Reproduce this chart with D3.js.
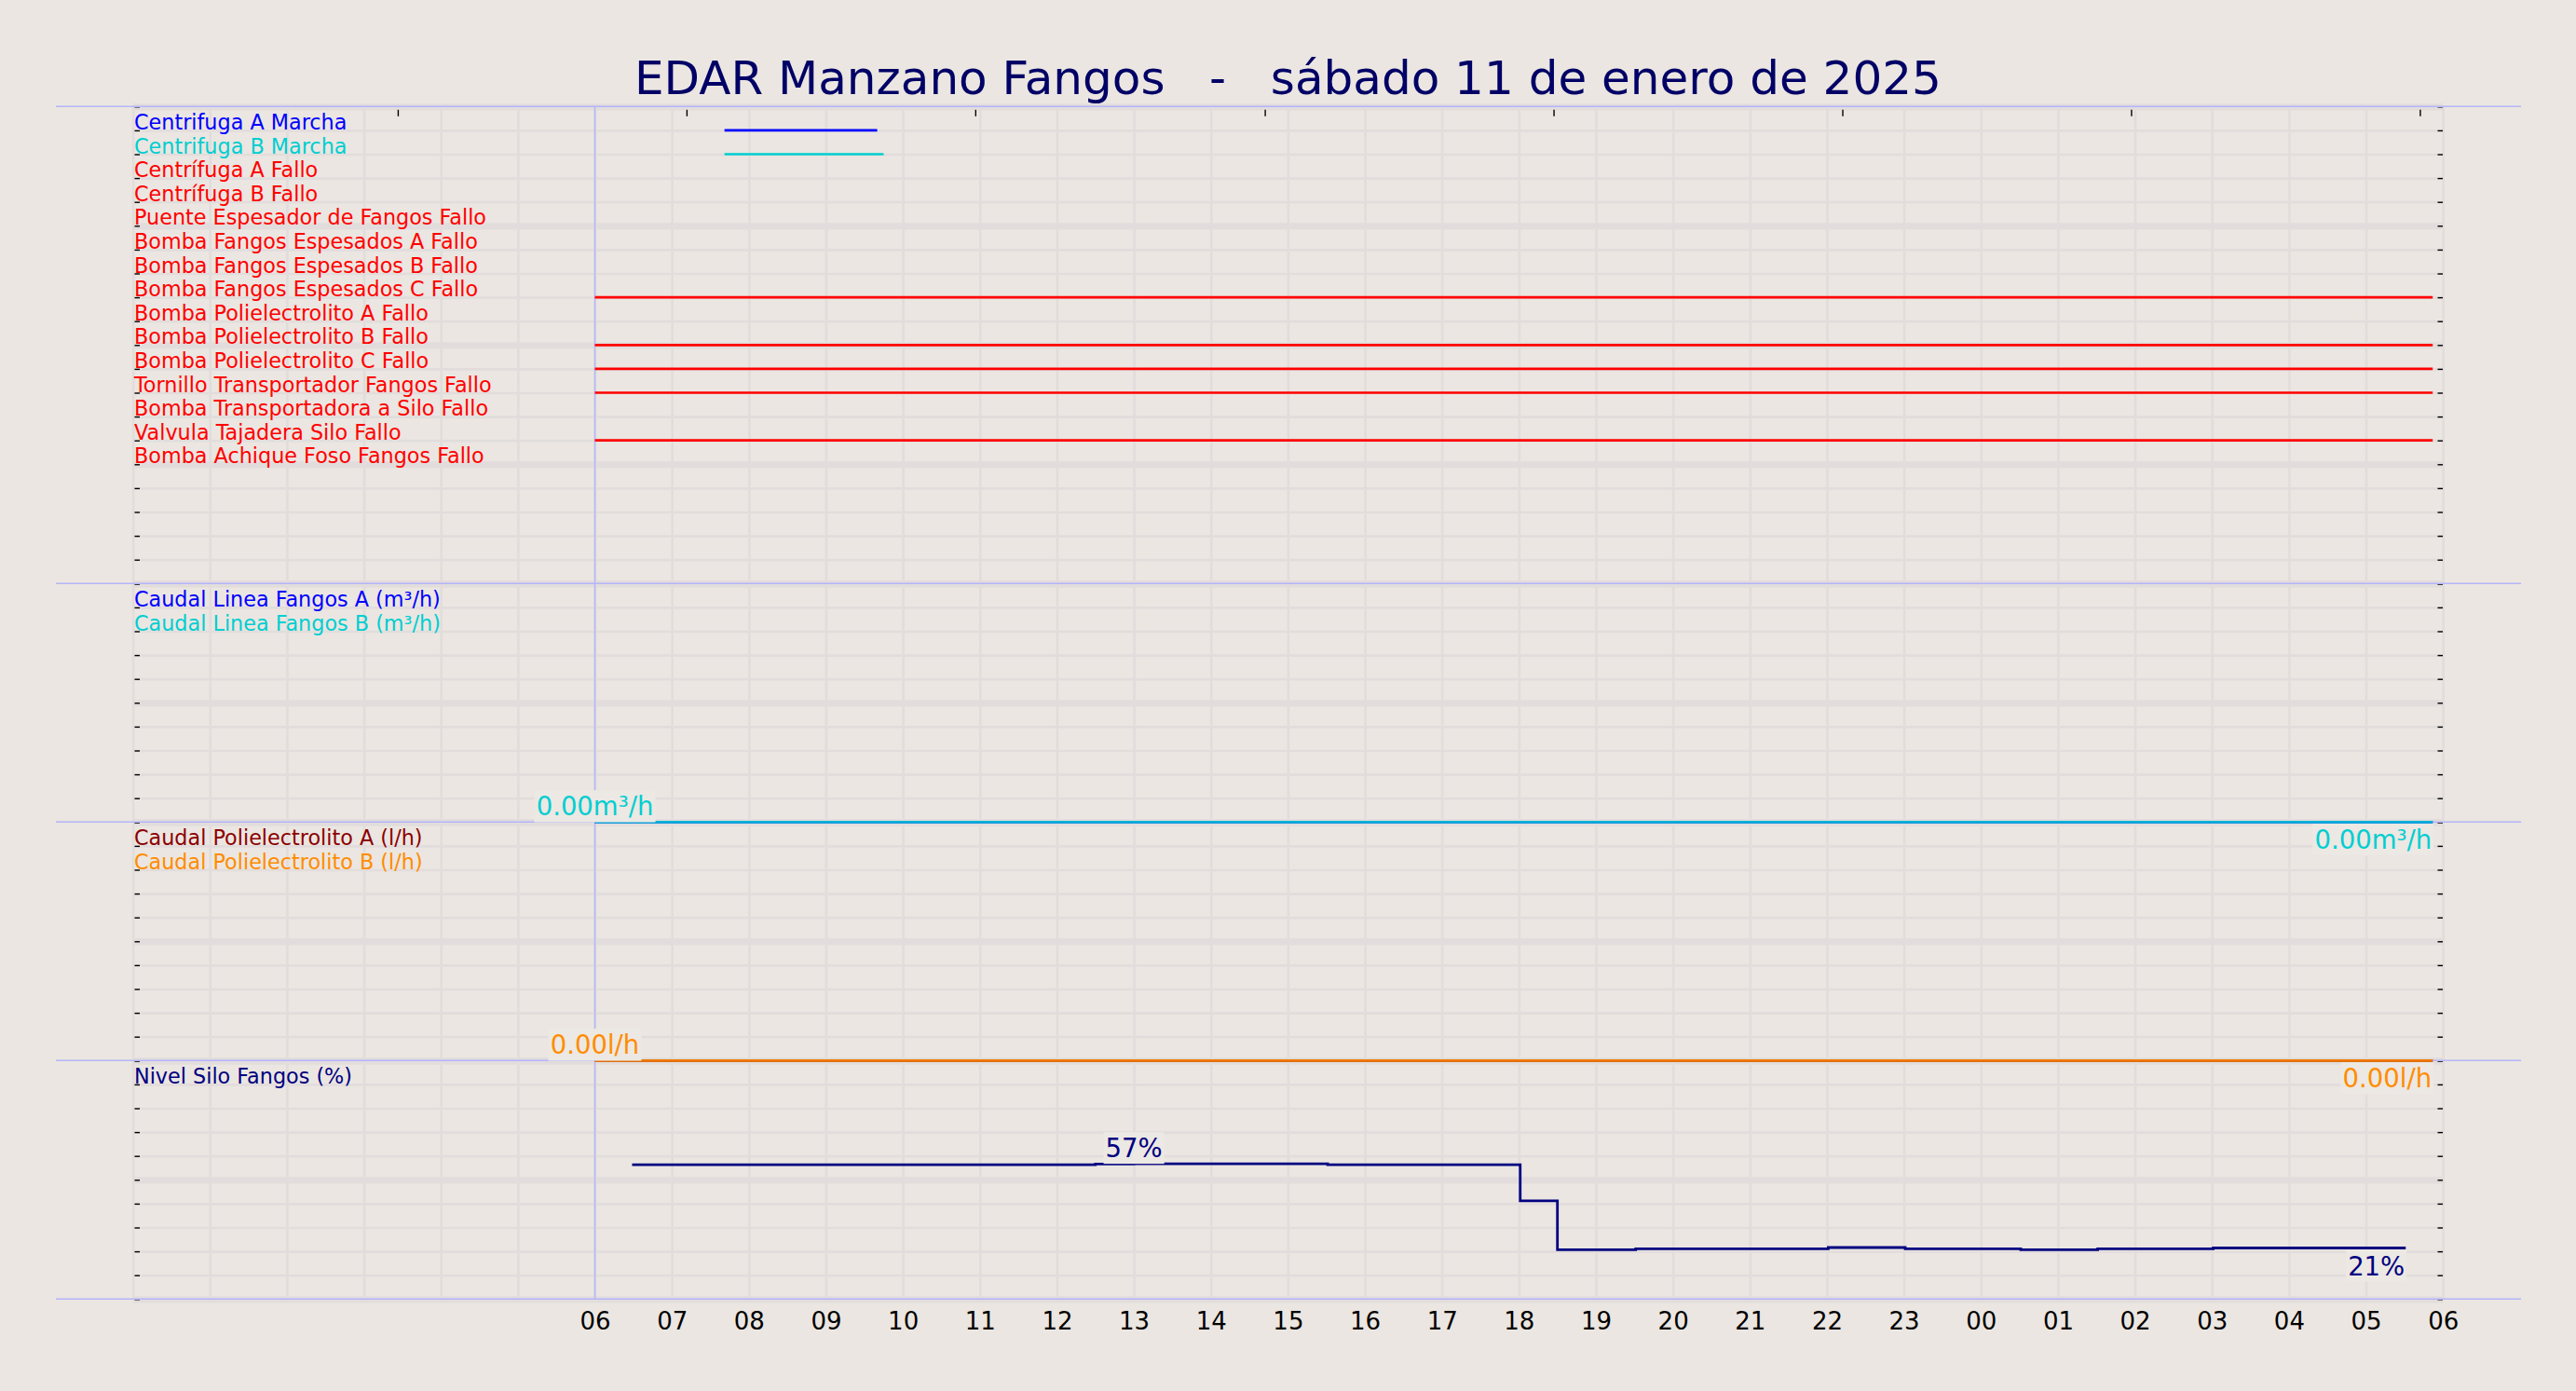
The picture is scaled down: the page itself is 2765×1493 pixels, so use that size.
<!DOCTYPE html>
<html>
<head>
<meta charset="utf-8">
<script src="https://d3js.org/d3.v7.min.js"></script>
<style>
  html, body { margin: 0; padding: 0; background: #ebe6e1; }
  svg { display: block; font-family: "DejaVu Sans", sans-serif; }
</style>
</head>
<body>
<svg id="chart" width="2765" height="1493"></svg>
<script>
// ---------------- DATA ----------------
const titleText = "EDAR Manzano Fangos   -   sábado 11 de enero de 2025";

const signalNames = [
  "Centrifuga A Marcha", "Centrifuga B Marcha", "Centrífuga A Fallo", "Centrífuga B Fallo",
  "Puente Espesador de Fangos Fallo", "Bomba Fangos Espesados A Fallo", "Bomba Fangos Espesados B Fallo",
  "Bomba Fangos Espesados C Fallo", "Bomba Polielectrolito A Fallo", "Bomba Polielectrolito B Fallo",
  "Bomba Polielectrolito C Fallo", "Tornillo Transportador Fangos Fallo", "Bomba Transportadora a Silo Fallo",
  "Valvula Tajadera Silo Fallo", "Bomba Achique Foso Fangos Fallo"
];
// active intervals per signal (day hour:minute)
const signalActive = [
  [["11 07:41", "11 09:40"]],
  [["11 07:41", "11 09:45"]],
  [], [], [], [], [],
  [["11 06:00", "12 05:52"]],
  [],
  [["11 06:00", "12 05:52"]],
  [["11 06:00", "12 05:52"]],
  [["11 06:00", "12 05:52"]],
  [],
  [["11 06:00", "12 05:52"]],
  []
];

const flowNames = ["Caudal Linea Fangos A (m³/h)", "Caudal Linea Fangos B (m³/h)"];
const flowTimes = ["11 06:00", "12 05:52"];
const flowA = [0, 0];
const flowB = [0, 0];

const polyNames = ["Caudal Polielectrolito A (l/h)", "Caudal Polielectrolito B (l/h)"];
const polyTimes = ["11 06:00", "12 05:52"];
const polyA = [0, 0];
const polyB = [0, 0];

const levelName = "Nivel Silo Fangos (%)";
const levelTimes = ["11 06:29", "11 12:30", "11 13:00", "11 15:31", "11 18:01", "11 18:30", "11 19:31",
                    "11 22:01", "11 23:01", "12 00:31", "12 01:31", "12 03:01", "12 05:31"];
const levelValues = [56.3, 56.6, 56.7, 56.3, 41.2, 20.7, 21.1, 21.6, 21.1, 20.7, 21.1, 21.4, 21.4];

const xTickLabels = ["06","07","08","09","10","11","12","13","14","15","16","17","18","19","20","21","22","23",
                     "00","01","02","03","04","05","06"];
const topTickHours = [3.44, 7.19, 10.94, 14.70, 18.45, 22.20, 25.95, 29.70];

// ---------------- SETUP ----------------
const parseT = d3.timeParse("%Y %d %H:%M");
const P = s => parseT("2025 " + s);
const t0 = new Date(2025, 0, 11, 0, 0);
const t1 = new Date(2025, 0, 12, 6, 0);

const W = 2765, H = 1493;
const plotL = 142.6, plotR = 2622.2;
const bg = "#ebe6e1", gridCol = "#e2dddc", lav = "#b4b4fa";
const labelSize = 22.3, valueSize = 27.5;

const svg = d3.select("#chart");
svg.append("rect").attr("width", W).attr("height", H).attr("fill", bg);

const x = d3.scaleTime().domain([t0, t1]).range([plotL, plotR]);

const panels = [
  { top: 114.3, h: 512, rows: 20 },
  { top: 626.3, h: 256, rows: 10 },
  { top: 882.3, h: 256, rows: 10 },
  { top: 1138.3, h: 256, rows: 10 }
];
panels.forEach(p => {
  p.row = d3.scaleLinear().domain([0, p.rows]).range([p.top, p.top + p.h]);
});
const plotTop = panels[0].top, plotBottom = panels[3].top + panels[3].h;

// ---------------- GRID ----------------
const gGrid = svg.append("g");
const hourly = [];
for (let h = 0; h <= 30; h++) hourly.push(new Date(t0.getTime() + h * 3600000));
const vg = gGrid.append("g").attr("transform", `translate(0,${plotBottom})`)
  .call(d3.axisBottom(x).tickValues(hourly).tickSize(-(plotBottom - plotTop)).tickFormat(""));
vg.select(".domain").remove();
vg.selectAll("line").attr("stroke", gridCol).attr("stroke-width", 2.7);

panels.forEach(p => {
  const g = gGrid.append("g").attr("transform", `translate(${plotL},0)`)
    .call(d3.axisLeft(p.row).tickValues(d3.range(0, p.rows + 1)).tickSize(-(plotR - plotL)).tickFormat(""));
  g.select(".domain").remove();
  g.selectAll("line").attr("stroke", gridCol).attr("stroke-width", d => d % 5 === 0 ? 7.3 : 2.7);
});

// ---------------- TICKS ----------------
panels.forEach(p => {
  const vals = d3.range(0, p.rows + 1);
  const gl = svg.append("g").attr("transform", `translate(144.5,0)`)
    .call(d3.axisRight(p.row).tickValues(vals).tickSize(5.5).tickFormat(""));
  gl.select(".domain").remove();
  gl.selectAll("line").attr("stroke", "#000").attr("stroke-width", 1.4);
  const gr = svg.append("g").attr("transform", `translate(2622,0)`)
    .call(d3.axisLeft(p.row).tickValues(vals).tickSize(5.5).tickFormat(""));
  gr.select(".domain").remove();
  gr.selectAll("line").attr("stroke", "#000").attr("stroke-width", 1.4);
});
const topDates = topTickHours.map(h => new Date(t0.getTime() + h * 3600000));
const gt = svg.append("g").attr("transform", `translate(0,${plotTop + 3.5})`)
  .call(d3.axisBottom(x).tickValues(topDates).tickSize(7).tickFormat(""));
gt.select(".domain").remove();
gt.selectAll("line").attr("stroke", "#000").attr("stroke-width", 1.4);

// ---------------- LAVENDER FRAME ----------------
const bounds = [panels[0].top, panels[1].top, panels[2].top, panels[3].top, plotBottom];
svg.append("g").selectAll("line").data(bounds).join("line")
  .attr("x1", 60).attr("x2", 2706).attr("y1", d => d).attr("y2", d => d)
  .attr("stroke", lav).attr("stroke-width", 1.5);
const t6 = P("11 06:00");
svg.append("line").attr("x1", x(t6)).attr("x2", x(t6)).attr("y1", plotTop).attr("y2", plotBottom)
  .attr("stroke", lav).attr("stroke-width", 1.5);

// ---------------- PANEL 1 : signals ----------------
const sigColor = i => i === 0 ? "#0000ff" : (i === 1 ? "#00ced1" : "#ff0000");
const p1 = panels[0];
const segLine = d3.line().x(d => x(d[0])).y(d => p1.row(d[1]));
signalActive.forEach((segs, i) => {
  segs.forEach(s => {
    svg.append("path")
      .attr("d", segLine([[P(s[0]), i + 1], [P(s[1]), i + 1]]))
      .attr("fill", "none").attr("stroke", sigColor(i)).attr("stroke-width", 2.7);
  });
});
svg.append("g").selectAll("text").data(signalNames).join("text")
  .attr("x", 144).attr("y", (d, i) => p1.row(i + 1) - 1)
  .attr("font-size", labelSize).attr("fill", (d, i) => sigColor(i)).text(d => d);

// ---------------- helpers ----------------
const lineGen = (yS) => d3.line().x(d => x(d.t)).y(d => yS(d.v)).curve(d3.curveStepAfter);

function labelBox(xp, yp, txt, color, anchor) {
  const g = svg.append("g");
  const rect = g.append("rect").attr("fill", "#ece8e3");
  const t = g.append("text").attr("x", xp).attr("y", yp).attr("text-anchor", anchor)
    .attr("font-size", valueSize).attr("fill", color).text(txt);
  const b = t.node().getBBox();
  rect.attr("x", b.x - 2).attr("y", b.y - 1).attr("width", b.width + 4).attr("height", b.height + 2);
}
function drawSeries(yS, times, vals, color, width, opacity) {
  const data = times.map((s, i) => ({ t: P(s), v: vals[i] }));
  svg.append("path").datum(data).attr("d", lineGen(yS))
    .attr("fill", "none").attr("stroke", color).attr("stroke-width", width).attr("stroke-opacity", opacity);
  return data;
}
function drawLabels(data, yS, fmt, color) {
  const mi = d3.maxIndex(data, d => d.v);
  labelBox(x(data[mi].t), yS(data[mi].v) - 7, fmt(data[mi].v), color, "middle");
  const last = data[data.length - 1];
  labelBox(x(last.t) - 1, yS(last.v) + 29, fmt(last.v), color, "end");
}

// ---------------- PANEL 2 : flows ----------------
const p2 = panels[1];
const y2 = d3.scaleLinear().domain([0, 10]).range([p2.top + p2.h, p2.top]);
const fA = drawSeries(y2, flowTimes, flowA, "#0000ff", 2.7, 1);
const fB = drawSeries(y2, flowTimes, flowB, "#00ced1", 2.7, 0.85);
const fmtFlow = v => d3.format(".2f")(v) + "m³/h";
drawLabels(fA, y2, fmtFlow, "#0000ff");
drawLabels(fB, y2, fmtFlow, "#00ced1");
svg.append("g").selectAll("text").data(flowNames).join("text")
  .attr("x", 144).attr("y", (d, i) => p2.row(i + 1) - 1)
  .attr("font-size", labelSize).attr("fill", (d, i) => i === 0 ? "#0000ff" : "#00ced1").text(d => d);

// ---------------- PANEL 3 : polyelectrolyte ----------------
const p3 = panels[2];
const y3 = d3.scaleLinear().domain([0, 10]).range([p3.top + p3.h, p3.top]);
const pA = drawSeries(y3, polyTimes, polyA, "#8b0000", 2.7, 1);
const pB = drawSeries(y3, polyTimes, polyB, "#ff8c00", 2.7, 0.85);
const fmtPoly = v => d3.format(".2f")(v) + "l/h";
drawLabels(pA, y3, fmtPoly, "#8b0000");
drawLabels(pB, y3, fmtPoly, "#ff8c00");
svg.append("g").selectAll("text").data(polyNames).join("text")
  .attr("x", 144).attr("y", (d, i) => p3.row(i + 1) - 1)
  .attr("font-size", labelSize).attr("fill", (d, i) => i === 0 ? "#8b0000" : "#ff8c00").text(d => d);

// ---------------- PANEL 4 : silo level ----------------
const p4 = panels[3];
const y4 = d3.scaleLinear().domain([0, 100]).range([p4.top + p4.h, p4.top]);
const lv = drawSeries(y4, levelTimes, levelValues, "#000080", 2.8, 1);
drawLabels(lv, y4, v => d3.format(".0f")(v) + "%", "#000080");
svg.append("text").attr("x", 144).attr("y", p4.row(1) - 0.5)
  .attr("font-size", labelSize).attr("fill", "#000080").text(levelName);

// ---------------- X AXIS ----------------
const xTicks = hourly.slice(6);
const xa = svg.append("g").attr("transform", `translate(0,${plotBottom})`)
  .call(d3.axisBottom(x).tickValues(xTicks).tickSize(0).tickPadding(14)
    .tickFormat((d, i) => xTickLabels[i]));
xa.select(".domain").remove();
xa.selectAll("text").attr("font-size", 26).attr("fill", "#000")
  .attr("font-family", "DejaVu Sans, sans-serif");

// ---------------- TITLE ----------------
svg.append("text").attr("x", (plotL + plotR) / 2).attr("y", 100.7)
  .attr("text-anchor", "middle").attr("font-size", 50).attr("fill", "#000066")
  .style("white-space", "pre").attr("xml:space", "preserve").text(titleText);
</script>
</body>
</html>
